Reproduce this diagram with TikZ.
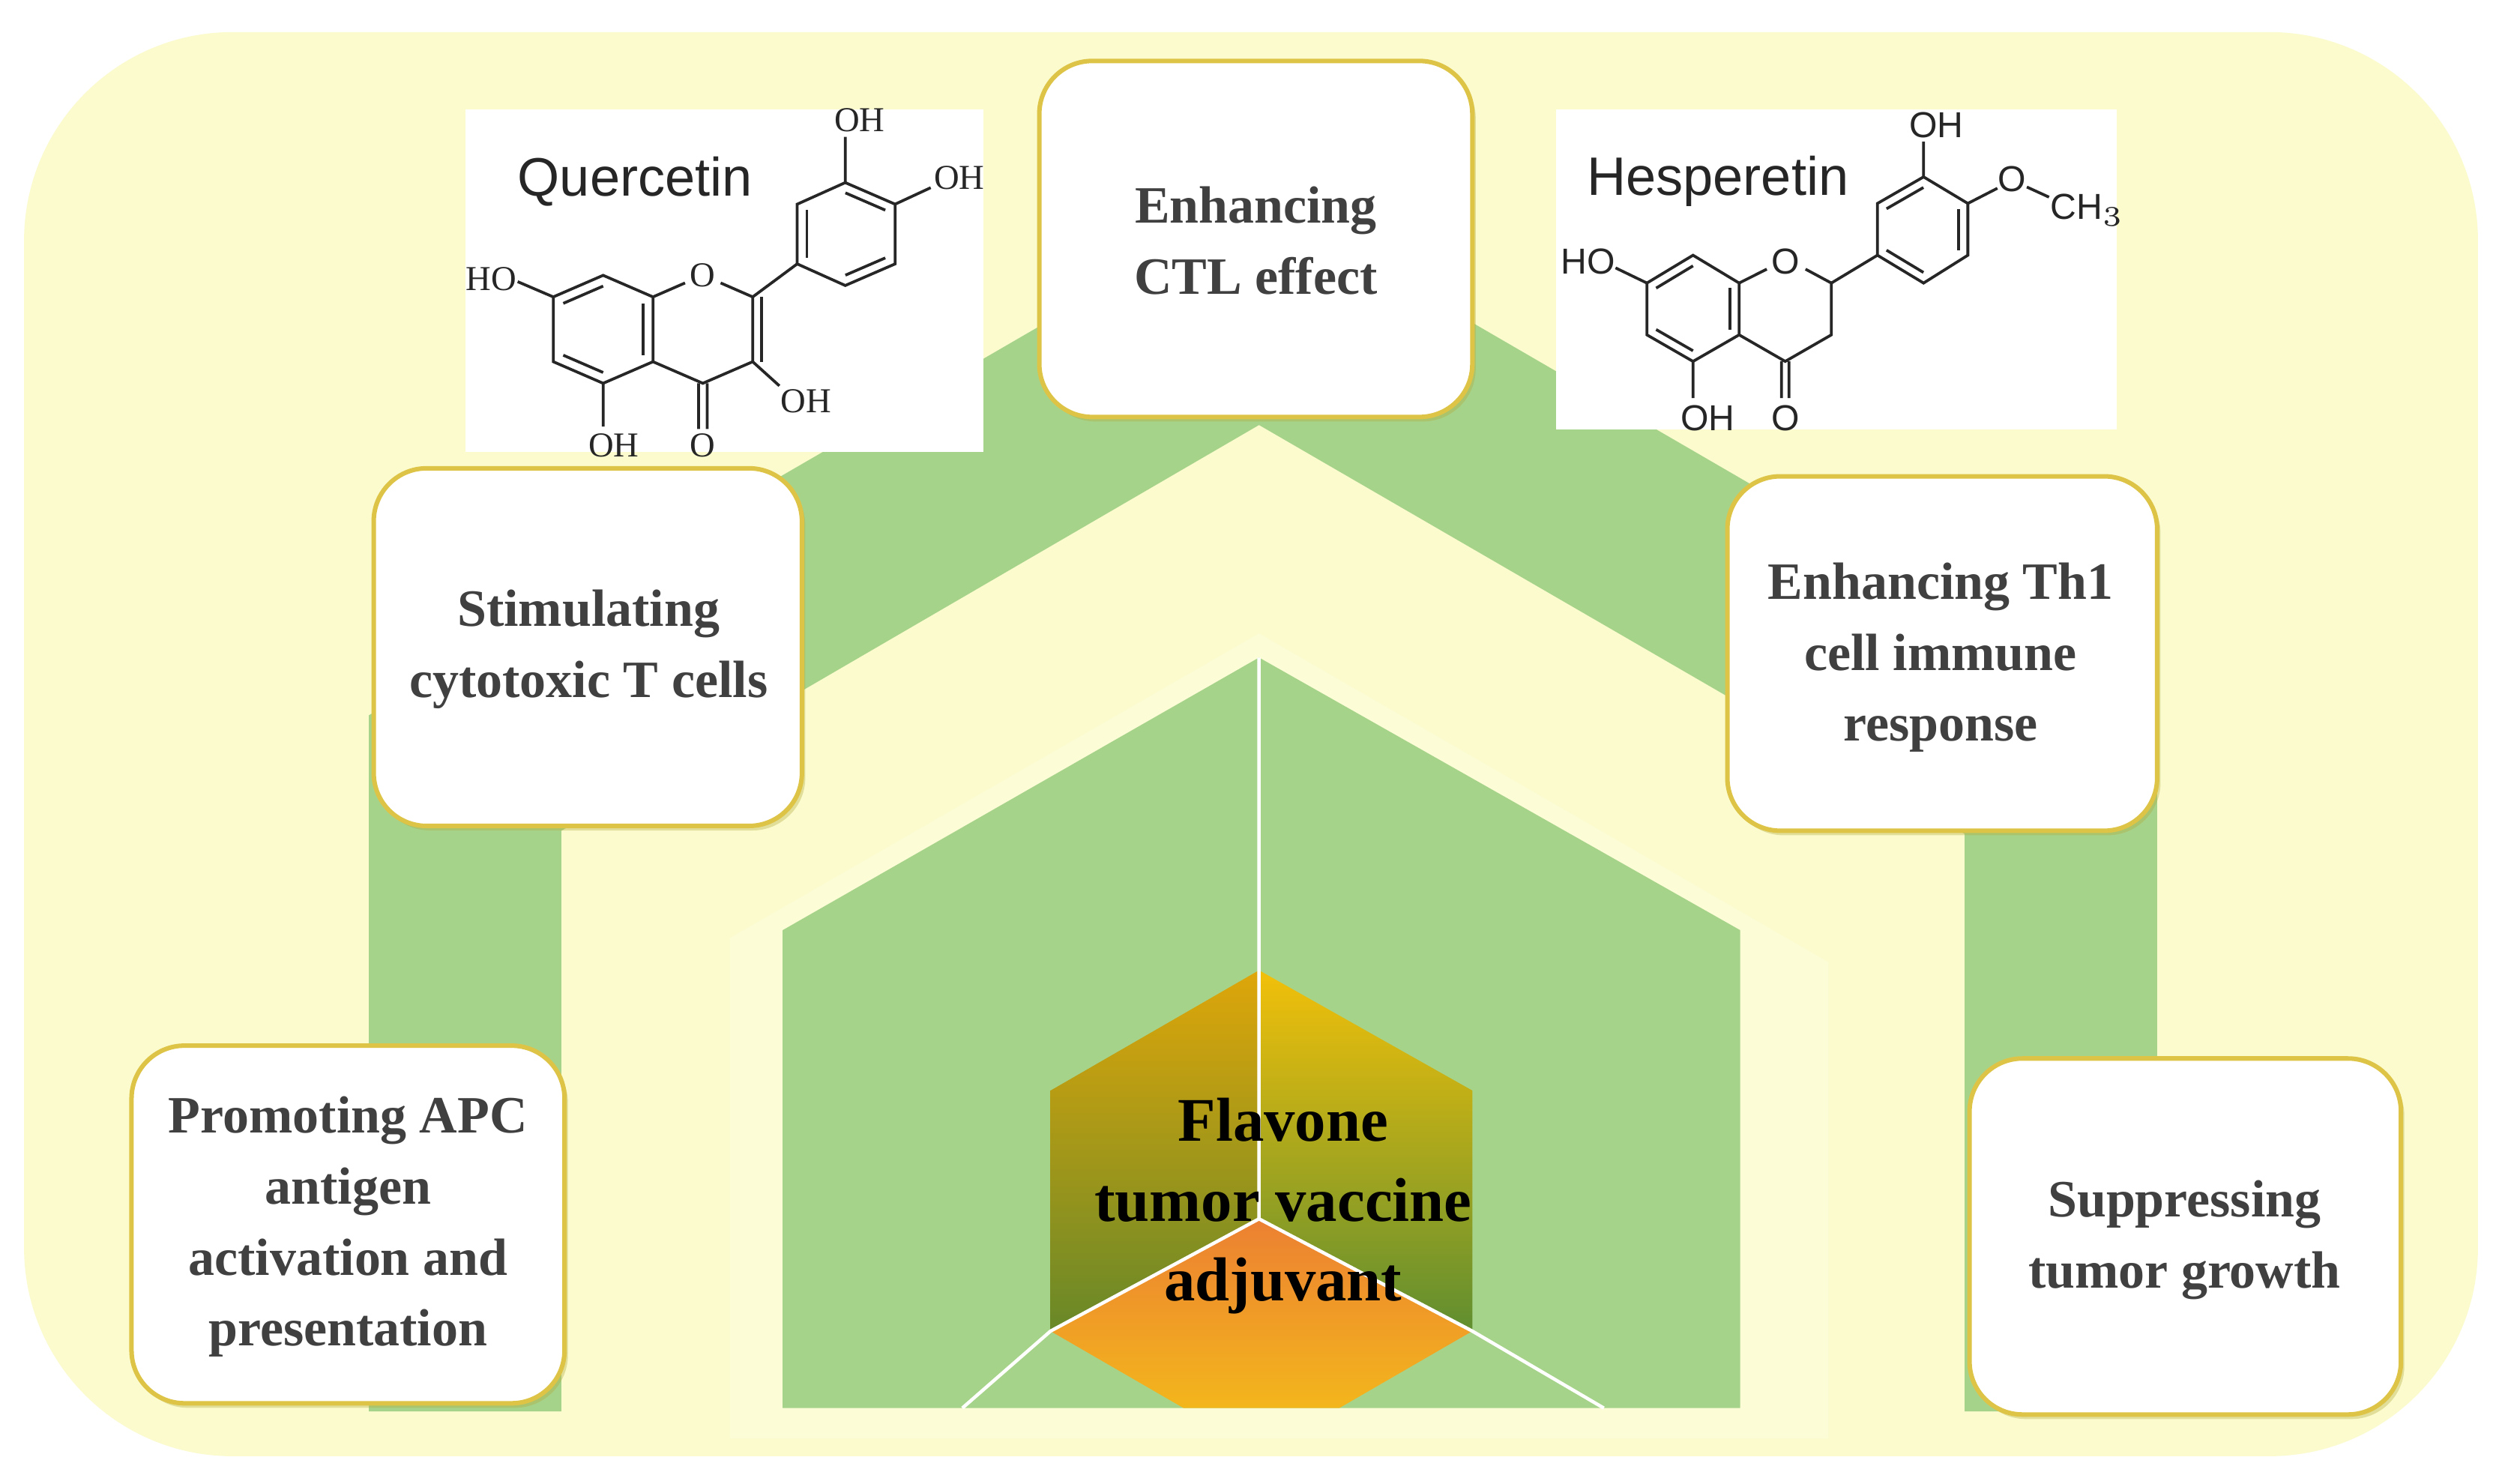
\documentclass[tikz,border=0pt]{standalone}
\usepackage{fontspec}
\setmainfont{Liberation Serif}
\newfontfamily\molsans{Liberation Sans}
\usetikzlibrary{calc,shadows}
\definecolor{bgy}{RGB}{251,251,206}
\definecolor{bgy2}{RGB}{252,252,214}
\definecolor{band}{RGB}{166,211,138}
\definecolor{gold}{RGB}{222,196,70}
\definecolor{txt}{RGB}{64,64,64}
\definecolor{hexlt}{RGB}{222,166,10}
\definecolor{hexlb}{RGB}{104,136,40}
\definecolor{hexrt}{RGB}{242,192,10}
\definecolor{hexrb}{RGB}{96,142,48}
\definecolor{orat}{RGB}{236,128,50}
\definecolor{orab}{RGB}{243,182,28}
\newcommand\dbl[3]{\draw ($(#1)!.2!(#3)$) -- ($(#2)!.2!(#3)$);}
\tikzset{
 box/.style={draw=gold, line width=0.8pt, fill=white, rounded corners=0.33cm,
   drop shadow={opacity=0.35, shadow xshift=0.6pt, shadow yshift=-0.8pt, fill=olive!70}},
 btxt/.style={font=\fontsize{9.3}{12.6}\selectfont\bfseries, text=txt, align=center},
 mol/.style={line width=0.5pt, black!85},
 qlab/.style={font=\fontsize{6.2}{7}\selectfont, inner sep=0pt, text=black!85},
 hlab/.style={font=\molsans\fontsize{6.4}{7}\selectfont, inner sep=0pt, text=black!85},
}
\begin{document}
\begin{tikzpicture}[x=0.01cm,y=-0.01cm]
\useasboundingbox (0,0) rectangle (1560,925.3);
\fill[white] (0,0) rectangle (1560,925.3);
\fill[bgy, rounded corners=1.3cm] (15,20) rectangle (1545,908);
% green band
\fill[band] (230,880) -- (230,446) -- (785,124) -- (1345,449) -- (1345,880) -- (1225,880) -- (1225,520) -- (785,265) -- (350,518) -- (350,880) -- cycle;
% faint outline of centre house
\fill[bgy2] (455,897) -- (455,585) -- (785,395) -- (1140,600) -- (1140,897) -- cycle;
% centre house
\fill[band] (488,878) -- (488,580) -- (785,410) -- (1085,580) -- (1085,878) -- cycle;
% hexagon
\shade[top color=hexlt, bottom color=hexlb] (785,605) -- (655,680) -- (655,830) -- (785,760) -- cycle;
\shade[top color=hexrt, bottom color=hexrb] (785,605) -- (918,680) -- (918,830) -- (785,760) -- cycle;
\shade[top color=orat, bottom color=orab] (785,760) -- (918,830) -- (835,878) -- (738,878) -- (655,830) -- cycle;
\draw[white, line width=0.6pt] (785,410) -- (785,760) -- (655,830) -- (600,878);
\draw[white, line width=0.6pt] (785,760) -- (918,830) -- (1000,878);
\node[font=\fontsize{11}{14.2}\selectfont\bfseries, align=center] (ctr) at (800,752) {Flavone\\tumor vaccine\\adjuvant};
% molecule panels
\fill[white] (290,68) rectangle (613,282);
\fill[white] (970,68) rectangle (1320,268);
% Quercetin
\begin{scope}[shift={(280.6,60)}, xscale=0.222, yscale=0.1584, mol]
 \coordinate (a1) at (430,705); \coordinate (a2) at (570,790); \coordinate (a3) at (570,1045);
 \coordinate (a4) at (430,1130); \coordinate (a5) at (290,1045); \coordinate (a6) at (290,790);
 \coordinate (ac) at (430,917);
 \coordinate (o1) at (710,705); \coordinate (c2) at (850,790); \coordinate (c3) at (850,1045); \coordinate (c4) at (710,1130);
 \coordinate (b1) at (975,660); \coordinate (b2) at (975,425); \coordinate (b3) at (1110,340);
 \coordinate (b4) at (1250,425); \coordinate (b5) at (1250,660); \coordinate (b6) at (1110,745);
 \coordinate (bc) at (1112,542);
 \draw (a1) -- (a2) -- (a3) -- (a4) -- (a5) -- (a6) -- cycle;
 \dbl{a6}{a1}{ac} \dbl{a2}{a3}{ac} \dbl{a5}{a4}{ac}
 \draw (a2) -- (660,735); \draw (760,735) -- (c2) -- (c3) -- (c4) -- (a3);
 \draw ($(c2)+(25,0)$) -- ($(c3)+(25,0)$);
 \draw (c2) -- (b1);
 \draw (b1) -- (b2) -- (b3) -- (b4) -- (b5) -- (b6) -- cycle;
 \dbl{b1}{b2}{bc} \dbl{b3}{b4}{bc} \dbl{b5}{b6}{bc}
 \draw (a6) -- (190,730); \draw (a4) -- (430,1300); \draw (c3) -- (925,1140);
 \draw ($(c4)+(-12,0)$) -- (698,1310); \draw ($(c4)+(12,0)$) -- (722,1310);
 \draw (b3) -- (1110,160); \draw (b4) -- (1350,360);
 \node[qlab] (qo1) at (710,705) {O};
 \node[qlab] (qho7) at (115,720) {HO};
 \node[qlab] (qoh5) at (460,1375) {OH};
 \node[qlab] (qo4) at (710,1375) {O};
 \node[qlab] (qoh3) at (1000,1200) {OH};
 \node[qlab] (qoh3p) at (1150,95) {OH};
 \node[qlab] (qoh4p) at (1430,320) {OH};
\end{scope}
\node[font=\molsans\fontsize{9.6}{11}\selectfont, text=black!85] (quer) at (396,113) {Quercetin};
% Hesperetin
\begin{scope}[shift={(972.8,64.6)}, xscale=0.230, yscale=0.1576, mol]
 \coordinate (h1) at (360,600); \coordinate (h2) at (485,710); \coordinate (h3) at (485,915);
 \coordinate (h4) at (360,1020); \coordinate (h5) at (235,915); \coordinate (h6) at (235,710);
 \coordinate (hc) at (360,810);
 \coordinate (hc2) at (735,710); \coordinate (hc3) at (735,915); \coordinate (hc4) at (610,1020);
 \coordinate (k1) at (860,600); \coordinate (k2) at (860,395); \coordinate (k3) at (985,290);
 \coordinate (k4) at (1105,395); \coordinate (k5) at (1105,600); \coordinate (k6) at (985,710);
 \coordinate (kc) at (983,500);
 \draw (h1) -- (h2) -- (h3) -- (h4) -- (h5) -- (h6) -- cycle;
 \dbl{h6}{h1}{hc} \dbl{h2}{h3}{hc} \dbl{h5}{h4}{hc}
 \draw (h2) -- (560,655); \draw (665,655) -- (hc2) -- (hc3) -- (hc4) -- (h3);
 \draw (hc2) -- (k1);
 \draw (k1) -- (k2) -- (k3) -- (k4) -- (k5) -- (k6) -- cycle;
 \dbl{k2}{k3}{kc} \dbl{k4}{k5}{kc} \dbl{k1}{k6}{kc}
 \draw (h6) -- (150,650); \draw (h4) -- (360,1165);
 \draw ($(hc4)+(-10,0)$) -- (600,1165); \draw ($(hc4)+(10,0)$) -- (620,1165);
 \draw (k3) -- (985,150); \draw (k4) -- (1185,335); \draw (1265,330) -- (1325,370);
 \node[hlab] (ho1) at (610,625) {O};
 \node[hlab] (hho7) at (75,625) {HO};
 \node[hlab] (hoh5) at (400,1245) {OH};
 \node[hlab] (ho4) at (610,1245) {O};
 \node[hlab] (hoh3p) at (1020,85) {OH};
 \node[hlab] (hom) at (1225,300) {O};
 \node[hlab, anchor=west] (hme) at (1325,420) {CH$_3$};
\end{scope}
\node[font=\molsans\fontsize{9.6}{11}\selectfont, text=black!85] (hesp) at (1071,113) {Hesperetin};
% boxes
\draw[box] (648,38) rectangle (918,260);
\node[btxt] (ctl) at (783,150) {Enhancing\\CTL effect};
\draw[box] (233,292) rectangle (500,515);
\node[btxt] (stim) at (367,405) {Stimulating\\cytotoxic T cells};
\draw[box] (1077,297) rectangle (1345,518);
\node[btxt] (th1) at (1210,410) {Enhancing Th1\\cell immune\\response};
\draw[box] (82,652) rectangle (352,875);
\node[btxt] (apc) at (217,765) {Promoting APC\\antigen\\activation and\\presentation};
\draw[box] (1228,660) rectangle (1497,882);
\node[btxt] (sup) at (1362,773) {Suppressing\\tumor growth};
\end{tikzpicture}
\end{document}
